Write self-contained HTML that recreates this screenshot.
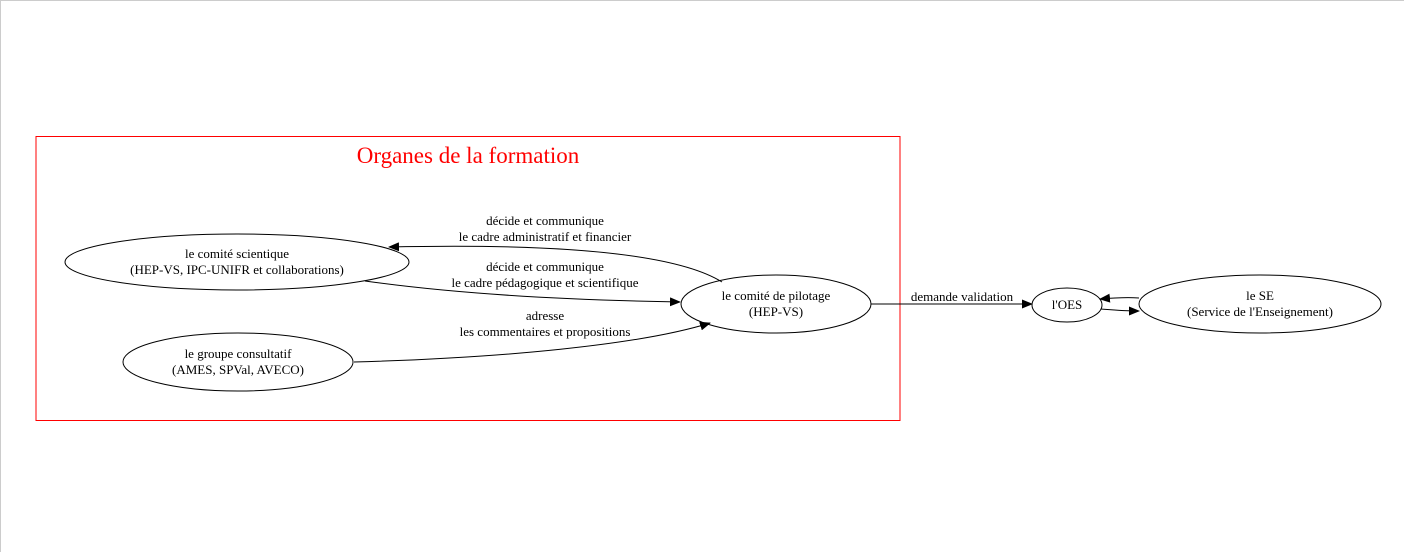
<!DOCTYPE html>
<html><head><meta charset="utf-8"><style>
html,body{margin:0;padding:0;background:#fff}
svg{display:block}
text{font-family:"Liberation Serif",serif;font-size:13px;fill:#000}
</style></head><body>
<svg width="1404" height="552" viewBox="0 0 1404 552" xmlns="http://www.w3.org/2000/svg">
<defs><marker id="a" markerWidth="11" markerHeight="9" refX="10" refY="4.5" orient="auto" markerUnits="userSpaceOnUse"><path d="M0,0 L11,4.5 L0,9 z" fill="#000"/></marker></defs>
<path d="M0.5,552 L0.5,0.5 L1404,0.5" fill="none" stroke="#ccc"/>
<rect x="36" y="136.5" width="864" height="284" fill="none" stroke="#f00"/>
<text x="468" y="163" text-anchor="middle" style="font-size:23px;fill:#f00">Organes de la formation</text>
<g fill="none" stroke="#000" stroke-width="1">
<ellipse cx="237" cy="262" rx="172" ry="28"/>
<ellipse cx="238" cy="362" rx="115" ry="29"/>
<ellipse cx="776" cy="304" rx="95" ry="29"/>
<ellipse cx="1067" cy="305" rx="35" ry="17"/>
<ellipse cx="1260" cy="304" rx="121" ry="29"/>
<path d="M722,282 C690,262 610,242 389,247" marker-end="url(#a)"/>
<path d="M365,281 C450,293 560,300 680,302" marker-end="url(#a)"/>
<path d="M354,362 C500,358 640,345 710,323" marker-end="url(#a)"/>
<path d="M871,304 L1032,304" marker-end="url(#a)"/>
<path d="M1139,298 C1125,297 1112,298 1100,299" marker-end="url(#a)"/>
<path d="M1101,309 C1114,310 1126,311 1139,311" marker-end="url(#a)"/>
</g>
<g text-anchor="middle">
<text x="237" y="258">le comité scientique</text>
<text x="237" y="274">(HEP-VS, IPC-UNIFR et collaborations)</text>
<text x="238" y="358">le groupe consultatif</text>
<text x="238" y="374">(AMES, SPVal, AVECO)</text>
<text x="776" y="300">le comité de pilotage</text>
<text x="776" y="316">(HEP-VS)</text>
<text x="1067" y="309">l'OES</text>
<text x="1260" y="300">le SE</text>
<text x="1260" y="316">(Service de l'Enseignement)</text>
<text x="545" y="225">décide et communique</text>
<text x="545" y="241">le cadre administratif et financier</text>
<text x="545" y="271">décide et communique</text>
<text x="545" y="287">le cadre pédagogique et scientifique</text>
<text x="545" y="320">adresse</text>
<text x="545" y="336">les commentaires et propositions</text>
<text x="962" y="301">demande validation</text>
</g>
</svg>
</body></html>
